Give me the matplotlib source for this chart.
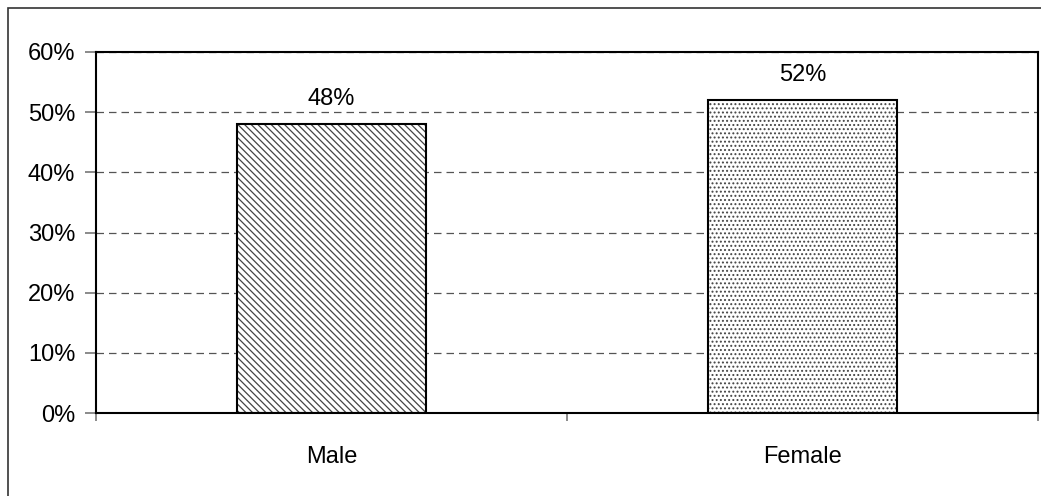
import matplotlib.pyplot as plt
from matplotlib.patches import Rectangle
from matplotlib.ticker import FixedLocator, PercentFormatter

categories = ["Male", "Female"]
shares = [48, 52]
hatches = ["\\\\\\\\\\", "...."]
yticks = [0, 10, 20, 30, 40, 50, 60]

plt.rcParams["font.family"] = ["Liberation Sans", "DejaVu Sans"]
plt.rcParams["hatch.linewidth"] = 0.9

fig = plt.figure(figsize=(10.41, 4.96), dpi=100)
ax = fig.add_axes([96 / 1041, 1 - 413 / 496, 942 / 1041, 361 / 496])

# chart frame (left and top edges only, the rest runs off the canvas)
fig.patches.append(Rectangle((8 / 1041, -0.1), 1.2, 1 - 8 / 496 + 0.1,
                             transform=fig.transFigure, fill=False,
                             edgecolor="#333333", linewidth=1.2))

x = range(len(categories))
for i, (v, h) in enumerate(zip(shares, hatches)):
    ax.bar(i, v, width=0.4, color="white", edgecolor="#444444",
           hatch=h, linewidth=0, zorder=2)
    ax.bar(i, v, width=0.4, fill=False, edgecolor="black",
           linewidth=1.5, zorder=3)
    ax.text(i, v + 2.3, f"{v}%", ha="center", va="bottom", fontsize=17)

ax.set_xlim(-0.5, len(categories) - 0.5)
ax.set_ylim(0, 60)
ax.set_yticks(yticks)
ax.yaxis.set_major_formatter(PercentFormatter(decimals=0))
ax.set_xticks(list(x))
ax.set_xticklabels(categories)
ax.xaxis.set_minor_locator(FixedLocator([-0.5, 0.5, 1.5]))
ax.tick_params(axis="x", which="major", length=0, pad=24, labelsize=17)
ax.tick_params(axis="x", which="minor", length=6, color="#777777", width=1.2)
ax.tick_params(axis="y", length=8, color="#777777", width=1.2, pad=7,
               labelsize=17)

ax.yaxis.grid(True, linestyle=(0, (6, 4)), color="#555555", linewidth=0.9)
ax.set_axisbelow(True)
for s in ax.spines.values():
    s.set_linewidth(1.5)
    s.set_color("black")

fig.savefig("out.png", dpi=100)
